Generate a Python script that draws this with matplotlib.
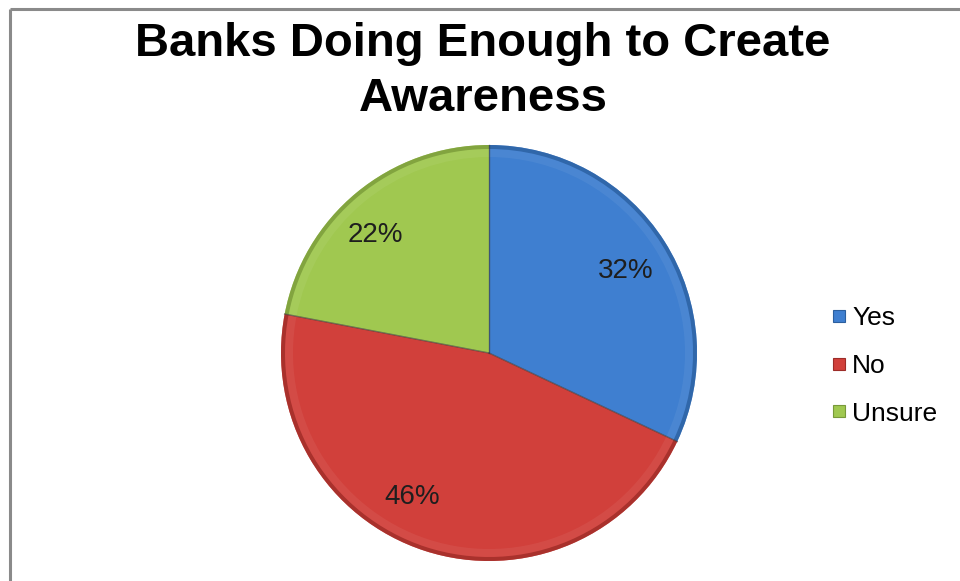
import numpy as np
import matplotlib.pyplot as plt
from matplotlib.lines import Line2D

plt.rcParams['font.family'] = ['Liberation Sans', 'DejaVu Sans']

# survey answers
answers = ['Yes', 'No', 'Unsure']
shares = [32, 46, 22]
colors = ['#3f7fd0', '#d1403b', '#a0c850']
edge_colors = ['#2c5f9e', '#9c2c28', '#78993a']

W, H = 960, 581
fig = plt.figure(figsize=(W / 100, H / 100), dpi=100)
ax = fig.add_axes([0, 0, 1, 1])
ax.set_xlim(0, W)
ax.set_ylim(0, H)
ax.set_aspect('equal')
ax.axis('off')

# chart frame (left and top sides show)
ax.plot([10, 10], [0, H - 9], color='#8a8a8a', lw=2.2, solid_capstyle='butt')
ax.plot([10, W], [H - 9, H - 9], color='#8a8a8a', lw=2.2, solid_capstyle='butt')

cx, cy, r = 489, H - 353, 208

wedges, _, pct_texts = ax.pie(shares, colors=colors, startangle=90, counterclock=False,
                              center=(cx, cy), radius=r, autopct='%d%%', pctdistance=0.78,
                              wedgeprops=dict(edgecolor='none'),
                              textprops=dict(fontsize=20, color='#1e1e1e'))

# bevel: darker outer rim and a faint highlight just inside it
ax.pie(shares, colors=edge_colors, startangle=90, counterclock=False,
       center=(cx, cy), radius=r, wedgeprops=dict(width=4, edgecolor='none', alpha=0.75))
ax.pie(shares, colors=['white'] * 3, startangle=90, counterclock=False,
       center=(cx, cy), radius=r - 4, wedgeprops=dict(width=8, edgecolor='none', alpha=0.06))
ax.set_xlim(0, W)
ax.set_ylim(0, H)

# separating lines between slices
ang = 90.0
for s in shares:
    t = np.deg2rad(ang)
    ax.plot([cx, cx + r * np.cos(t)], [cy, cy + r * np.sin(t)], color='#3a3a3a', lw=1.0, alpha=0.6)
    ang -= s * 3.6

label_pos = [(626, H - 271), (412, H - 497), (375, H - 235)]
for t, p in zip(pct_texts, label_pos):
    t.set_position(p)
    t.set_ha('center')
    t.set_va('center')

ax.text(483, H - 44, 'Banks Doing Enough to Create', fontsize=34, fontweight='bold',
        ha='center', va='center')
ax.text(483, H - 99, 'Awareness', fontsize=34, fontweight='bold', ha='center', va='center')

handles = [Line2D([], [], marker='s', ls='none', markersize=9, markerfacecolor=c,
                  markeredgecolor=e, markeredgewidth=0.8) for c, e in zip(colors, edge_colors)]
ax.legend(handles, answers, loc='upper left', bbox_to_anchor=(818, H - 293),
          bbox_transform=ax.transData, frameon=False, fontsize=19,
          handlelength=0.6, handletextpad=0.2, labelspacing=0.9, borderpad=0)

fig.savefig('out.png', dpi=100)
